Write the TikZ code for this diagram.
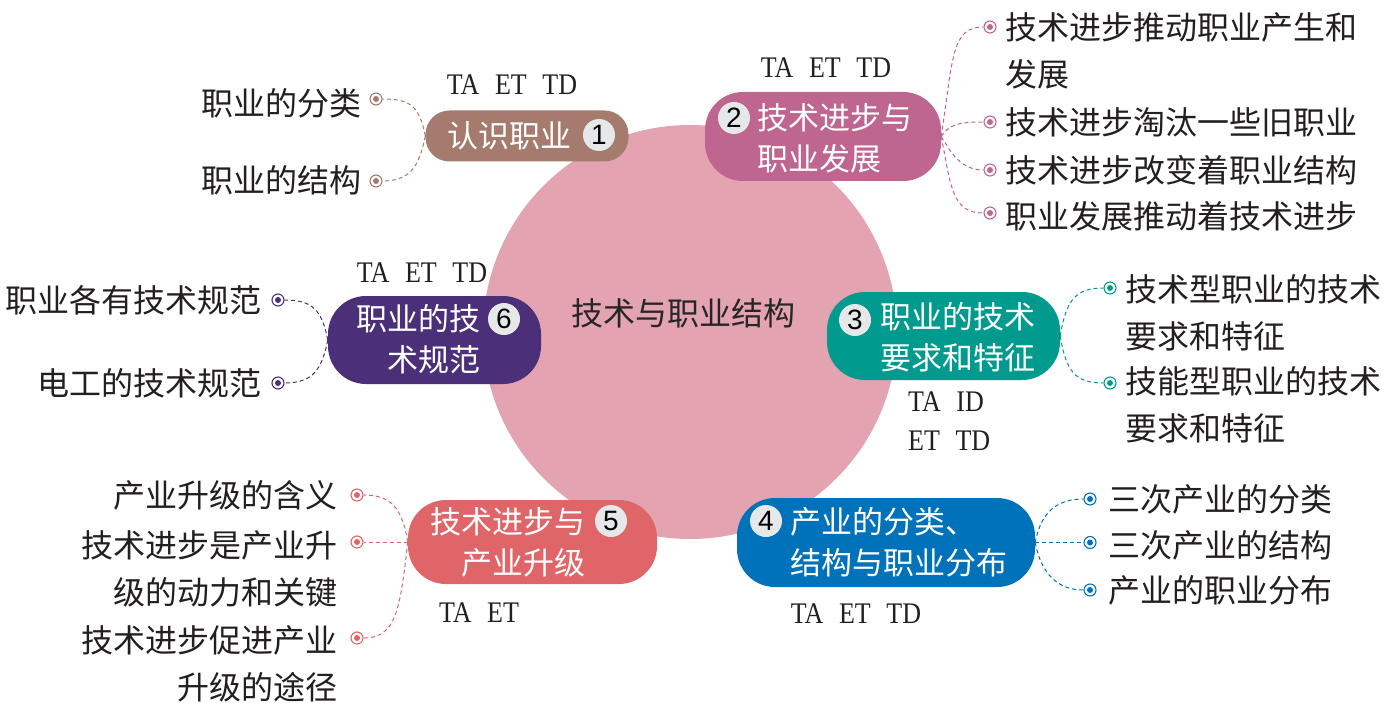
\documentclass[tikz,border=0pt]{standalone}
\usepackage{fontspec}
\setmainfont{Liberation Serif}
\newfontfamily\cjk{Noto Sans CJK SC}
\newfontfamily\numsans{Liberation Sans}
\definecolor{cbrown}{HTML}{A57B6E}
\definecolor{cpink}{HTML}{BE6590}
\definecolor{cteal}{HTML}{009A8E}
\definecolor{cblue}{HTML}{0072BA}
\definecolor{cred}{HTML}{E06568}
\definecolor{cpurple}{HTML}{4B3079}
\definecolor{ccore}{HTML}{E4A3B0}
\definecolor{cbadge}{HTML}{E6E7E8}
\definecolor{cleaf}{HTML}{231F20}
\newcommand{\tallsc}[1]{\scalebox{1}[1.15]{#1}}
\begin{document}
\begin{tikzpicture}[x=1pt,y=-1pt,
  mbox/.style={fill=#1, rounded corners=38pt, inner sep=0},
  btext/.style={font=\cjk\fontsize{31}{41}\selectfont, text=white, inner sep=0},
  badge/.style={circle, fill=cbadge, inner sep=0, minimum size=32, font=\numsans\fontsize{28}{28}\selectfont, text=black},
  leaf/.style={font=\cjk\fontsize{32}{47}\selectfont, text=cleaf, inner sep=0},
  tag/.style={font=\fontsize{26}{39}\selectfont, text=cleaf, inner sep=0},
  dot/.style={circle, draw=#1, fill=white, line width=1.1pt, minimum size=12, inner sep=0,
    path picture={\fill[#1] (path picture bounding box.center) circle (3pt);}},
  conn/.style={draw=#1, line width=1pt, dash pattern=on 4pt off 3pt}]
\useasboundingbox (0,0) rectangle (1383,703);
\fill[white] (0,0) rectangle (1383,703);

% core
\node[circle, fill=ccore, minimum size=414, inner sep=0] (core) at (690,332) {};
\node[font=\cjk\fontsize{32}{32}\selectfont, text=black!85, inner sep=0] (coretext) at (683,313) {技术与职业结构};

% boxes
\node[mbox=cbrown, minimum width=203, minimum height=51, rounded corners=24pt] (b1) at (527,136) {};
\node[mbox=cpink, minimum width=236, minimum height=89] (b2) at (823,136.5) {};
\node[mbox=cteal, minimum width=233, minimum height=88] (b3) at (943.5,336) {};
\node[mbox=cblue, minimum width=298, minimum height=89] (b4) at (886,542.5) {};
\node[mbox=cred, minimum width=249, minimum height=84] (b5) at (532.5,542) {};
\node[mbox=cpurple, minimum width=213, minimum height=88] (b6) at (434.5,340) {};

% box texts
\node[btext, anchor=west] (t1) at (447,136) {认识职业};
\node[btext, anchor=west, align=left] (t2) at (757,138) {技术进步与\\职业发展};
\node[btext, anchor=west, align=left] (t3) at (880,337) {职业的技术\\要求和特征};
\node[btext, anchor=west, align=left] (t4) at (790,542) {产业的分类、\\结构与职业分布};
\node[btext, anchor=east, align=right] (t5) at (586,542) {技术进步与\\产业升级};
\node[btext, anchor=east, align=right] (t6) at (481,339) {职业的技\\术规范};

% badges
\node[badge] (n1) at (599,135) {1};
\node[badge] (n2) at (734,118) {2};
\node[badge] (n3) at (855,320) {3};
\node[badge] (n4) at (766,521) {4};
\node[badge] (n5) at (611,521) {5};
\node[badge] (n6) at (504,319) {6};

% tags
\node[tag] (g1) at (512,85) {\tallsc{TA\hspace{0.6em}ET\hspace{0.6em}TD}};
\node[tag] (g2) at (826,68) {\tallsc{TA\hspace{0.6em}ET\hspace{0.6em}TD}};
\node[tag] (g6) at (422,273) {\tallsc{TA\hspace{0.6em}ET\hspace{0.6em}TD}};
\node[tag, anchor=west, align=left] (g3) at (908,421) {\tallsc{TA\hspace{0.6em}ID}\\\tallsc{ET\hspace{0.6em}TD}};
\node[tag] (g4) at (856,614) {\tallsc{TA\hspace{0.6em}ET\hspace{0.6em}TD}};
\node[tag] (g5) at (479,613) {\tallsc{TA\hspace{0.6em}ET}};

% dots
\node[dot=cbrown] (d11) at (376,99) {};
\node[dot=cbrown] (d12) at (376,181) {};
\node[dot=cpink] (d21) at (990,27) {};
\node[dot=cpink] (d22) at (990,122) {};
\node[dot=cpink] (d23) at (990,170) {};
\node[dot=cpink] (d24) at (990,213) {};
\node[dot=cteal] (d31) at (1110,288) {};
\node[dot=cteal] (d32) at (1110,383) {};
\node[dot=cblue] (d41) at (1090,499) {};
\node[dot=cblue] (d42) at (1090,542.5) {};
\node[dot=cblue] (d43) at (1090,590) {};
\node[dot=cred] (d51) at (357,495) {};
\node[dot=cred] (d52) at (357,542) {};
\node[dot=cred] (d53) at (357,638) {};
\node[dot=cpurple] (d61) at (278,300) {};
\node[dot=cpurple] (d62) at (278,383) {};

% leaves
\node[leaf, anchor=east] (l11) at (362,103) {职业的分类};
\node[leaf, anchor=east] (l12) at (362,180) {职业的结构};
\node[leaf, anchor=west, align=left] (l21) at (1005,50.5) {技术进步推动职业产生和\\发展};
\node[leaf, anchor=west] (l22) at (1005,122) {技术进步淘汰一些旧职业};
\node[leaf, anchor=west] (l23) at (1005,170) {技术进步改变着职业结构};
\node[leaf, anchor=west] (l24) at (1005,216) {职业发展推动着技术进步};
\node[leaf, anchor=west, align=left] (l31) at (1125,313) {技术型职业的技术\\要求和特征};
\node[leaf, anchor=west, align=left] (l32) at (1125,405) {技能型职业的技术\\要求和特征};
\node[leaf, anchor=west] (l41) at (1108,499) {三次产业的分类};
\node[leaf, anchor=west] (l42) at (1108,545) {三次产业的结构};
\node[leaf, anchor=west] (l43) at (1108,590) {产业的职业分布};
\node[leaf, anchor=east] (l51) at (338,495) {产业升级的含义};
\node[leaf, anchor=east, align=right] (l52) at (338,568.5) {技术进步是产业升\\级的动力和关键};
\node[leaf, anchor=east, align=right] (l53) at (338,664) {技术进步促进产业\\升级的途径};
\node[leaf, anchor=east] (l61) at (262,300) {职业各有技术规范};
\node[leaf, anchor=east] (l62) at (262,383) {电工的技术规范};

% connectors
\draw[conn=cbrown] (b1.west) .. controls +(-6,-30) and +(28,0) .. (d11.east);
\draw[conn=cbrown] (b1.west) .. controls +(-6,30) and +(28,0) .. (d12.east);
\draw[conn=cpink] (b2.east) .. controls +(12,-80) and +(-32,0) .. (d21.west);
\draw[conn=cpink] (b2.east) .. controls +(8,-12) and +(-25,0) .. (d22.west);
\draw[conn=cpink] (b2.east) .. controls +(8,12) and +(-25,0) .. (d23.west);
\draw[conn=cpink] (b2.east) .. controls +(10,50) and +(-32,0) .. (d24.west);
\draw[conn=cteal] (b3.east) .. controls +(6,-36) and +(-28,0) .. (d31.west);
\draw[conn=cteal] (b3.east) .. controls +(6,36) and +(-28,0) .. (d32.west);
\draw[conn=cblue] (b4.east) .. controls +(6,-32) and +(-25,0) .. (d41.west);
\draw[conn=cblue] (b4.east) -- (d42.west);
\draw[conn=cblue] (b4.east) .. controls +(6,32) and +(-25,0) .. (d43.west);
\draw[conn=cred] (b5.west) .. controls +(-6,-34) and +(28,0) .. (d51.east);
\draw[conn=cred] (b5.west) -- (d52.east);
\draw[conn=cred] (b5.west) .. controls +(-8,70) and +(32,0) .. (d53.east);
\draw[conn=cpurple] (b6.west) .. controls +(-6,-30) and +(28,0) .. (d61.east);
\draw[conn=cpurple] (b6.west) .. controls +(-6,30) and +(28,0) .. (d62.east);
\end{tikzpicture}
\end{document}
